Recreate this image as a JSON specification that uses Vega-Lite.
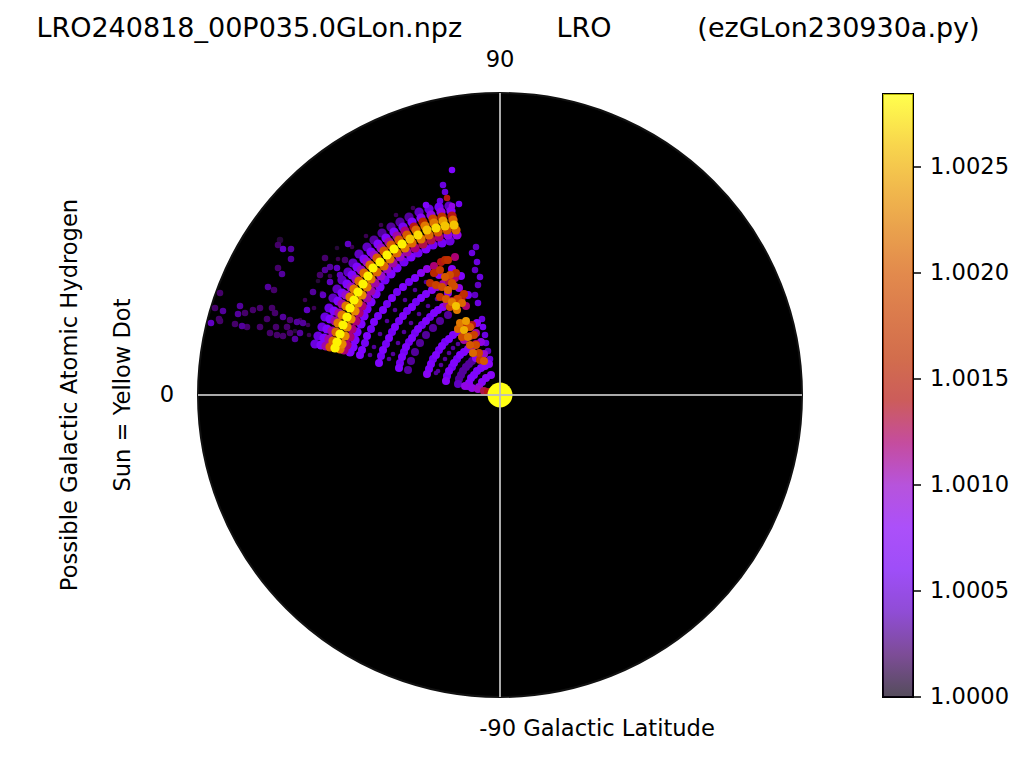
{"$schema":"https://vega.github.io/schema/vega-lite/v6.json","width":604,"height":604,"padding":{"left":198,"top":93,"right":222,"bottom":60},"autosize":"none","background":"white","config":{"view":{"stroke":null},"font":"DejaVu Sans"},"title":{"text":"LRO240818_00P035.0GLon.npz\u00a0\u00a0\u00a0\u00a0\u00a0\u00a0\u00a0\u00a0\u00a0\u00a0\u00a0LRO\u00a0\u00a0\u00a0\u00a0\u00a0\u00a0\u00a0\u00a0\u00a0\u00a0(ezGLon230930a.py)","font":"DejaVu Sans","fontSize":27,"fontWeight":"normal","color":"#000","anchor":"middle","dx":8,"offset":6},
"datasets":{"disc":[{"x":0,"y":0}],"box":[{"x":383,"x2":413,"y":-302,"y2":301}],"cross":[{"x":-302,"x2":302,"y":0,"y2":0},{"x":0,"x2":0,"y":-302,"y2":302}],"labels":[{"x":0,"y":335,"t":"90"},{"x":-333,"y":0,"t":"0"},{"x":97,"y":-334,"t":"-90 Galactic Latitude"}],"side":[{"x":-430,"y":0,"t":"Possible Galactic Atomic Hydrogen"},{"x":-377,"y":0,"t":"Sun = Yellow Dot"}],"bar":[{"x":413,"x2":421,"xt":430,"y":-302,"t":"1.0000"},{"x":413,"x2":421,"xt":430,"y":-196,"t":"1.0005"},{"x":413,"x2":421,"xt":430,"y":-90,"t":"1.0010"},{"x":413,"x2":421,"xt":430,"y":16,"t":"1.0015"},{"x":413,"x2":421,"xt":430,"y":122,"t":"1.0020"},{"x":413,"x2":421,"xt":430,"y":228,"t":"1.0025"}],
"pts":[
{"x":-51,"y":189,"v":1.0004,"g":"b"},{"x":-49,"y":184,"v":1.0008,"g":"b"},{"x":-48,"y":179,"v":1.0014,"g":"b"},{"x":-47,"y":175,"v":1.0021,"g":"b"},{"x":-46,"y":170,"v":1.0026,"g":"b"},{"x":-44,"y":165,"v":1.0021,"g":"b"},{"x":-43,"y":160,"v":1.0009,"g":"b"},
{"x":-61,"y":188,"v":1.0006,"g":"b"},{"x":-59,"y":183,"v":1.0009,"g":"b"},{"x":-58,"y":178,"v":1.0016,"g":"b"},{"x":-57,"y":174,"v":1.0024,"g":"b"},{"x":-55,"y":169,"v":1.0026,"g":"b"},{"x":-53,"y":165,"v":1.0019,"g":"b"},{"x":-52,"y":160,"v":1.0009,"g":"b"},{"x":-50,"y":154,"v":1.0005,"g":"b"},
{"x":-71,"y":186,"v":1.0005,"g":"b"},{"x":-69,"y":180,"v":1.0009,"g":"b"},{"x":-67,"y":176,"v":1.0018,"g":"b"},{"x":-66,"y":172,"v":1.0022,"g":"b"},{"x":-64,"y":167,"v":1.0027,"g":"b"},{"x":-62,"y":163,"v":1.002,"g":"b"},{"x":-61,"y":158,"v":1.0012,"g":"b"},{"x":-58,"y":152,"v":1.0006,"g":"b"},
{"x":-81,"y":183,"v":1.0004,"g":"b"},{"x":-79,"y":177,"v":1.0008,"g":"b"},{"x":-77,"y":173,"v":1.0015,"g":"b"},{"x":-75,"y":169,"v":1.0022,"g":"b"},{"x":-73,"y":165,"v":1.0026,"g":"b"},{"x":-71,"y":160,"v":1.0021,"g":"b"},{"x":-69,"y":155,"v":1.0013,"g":"b"},{"x":-67,"y":150,"v":1.0006,"g":"b"},
{"x":-91,"y":178,"v":1.0003,"g":"b"},{"x":-88,"y":173,"v":1.0007,"g":"b"},{"x":-86,"y":168,"v":1.0014,"g":"b"},{"x":-84,"y":165,"v":1.0021,"g":"b"},{"x":-82,"y":160,"v":1.0027,"g":"b"},{"x":-79,"y":156,"v":1.0022,"g":"b"},{"x":-77,"y":151,"v":1.0013,"g":"b"},{"x":-74,"y":146,"v":1.0007,"g":"b"},
{"x":-100,"y":173,"v":1.0003,"g":"b"},{"x":-97,"y":168,"v":1.0006,"g":"b"},{"x":-95,"y":164,"v":1.0012,"g":"b"},{"x":-93,"y":160,"v":1.002,"g":"b"},{"x":-90,"y":156,"v":1.0026,"g":"b"},{"x":-88,"y":152,"v":1.0021,"g":"b"},{"x":-85,"y":147,"v":1.0012,"g":"b"},{"x":-82,"y":142,"v":1.0006,"g":"b"},
{"x":-109,"y":168,"v":1.0003,"g":"b"},{"x":-106,"y":163,"v":1.0007,"g":"b"},{"x":-103,"y":159,"v":1.0011,"g":"b"},{"x":-101,"y":155,"v":1.002,"g":"b"},{"x":-98,"y":151,"v":1.0028,"g":"b"},{"x":-95,"y":147,"v":1.0022,"g":"b"},{"x":-93,"y":143,"v":1.0011,"g":"b"},{"x":-89,"y":138,"v":1.0007,"g":"b"},
{"x":-118,"y":162,"v":1.0003,"g":"b"},{"x":-114,"y":157,"v":1.0007,"g":"b"},{"x":-111,"y":153,"v":1.0011,"g":"b"},{"x":-109,"y":150,"v":1.002,"g":"b"},{"x":-106,"y":146,"v":1.0028,"g":"b"},{"x":-103,"y":142,"v":1.0021,"g":"b"},{"x":-100,"y":138,"v":1.001,"g":"b"},{"x":-96,"y":133,"v":1.0006,"g":"b"},
{"x":-126,"y":155,"v":1.0003,"g":"b"},{"x":-122,"y":151,"v":1.0007,"g":"b"},{"x":-119,"y":147,"v":1.001,"g":"b"},{"x":-116,"y":144,"v":1.002,"g":"b"},{"x":-113,"y":140,"v":1.0028,"g":"b"},{"x":-110,"y":136,"v":1.0022,"g":"b"},{"x":-107,"y":132,"v":1.0011,"g":"b"},{"x":-103,"y":127,"v":1.0007,"g":"b"},
{"x":-133,"y":148,"v":1.0004,"g":"b"},{"x":-129,"y":143,"v":1.0007,"g":"b"},{"x":-126,"y":140,"v":1.001,"g":"b"},{"x":-123,"y":137,"v":1.002,"g":"b"},{"x":-120,"y":133,"v":1.0028,"g":"b"},{"x":-116,"y":129,"v":1.0021,"g":"b"},{"x":-113,"y":126,"v":1.001,"g":"b"},{"x":-109,"y":121,"v":1.0007,"g":"b"},
{"x":-141,"y":141,"v":1.0004,"g":"b"},{"x":-136,"y":136,"v":1.0007,"g":"b"},{"x":-133,"y":133,"v":1.001,"g":"b"},{"x":-130,"y":130,"v":1.0021,"g":"b"},{"x":-127,"y":127,"v":1.0028,"g":"b"},{"x":-123,"y":123,"v":1.0021,"g":"b"},{"x":-119,"y":119,"v":1.001,"g":"b"},{"x":-115,"y":115,"v":1.0006,"g":"b"},
{"x":-147,"y":132,"v":1.0004,"g":"b"},{"x":-143,"y":128,"v":1.0007,"g":"b"},{"x":-139,"y":125,"v":1.001,"g":"b"},{"x":-136,"y":122,"v":1.0021,"g":"b"},{"x":-132,"y":119,"v":1.0028,"g":"b"},{"x":-129,"y":116,"v":1.0022,"g":"b"},{"x":-125,"y":112,"v":1.0011,"g":"b"},{"x":-120,"y":108,"v":1.0007,"g":"b"},
{"x":-152,"y":123,"v":1.0004,"g":"b"},{"x":-148,"y":120,"v":1.0007,"g":"b"},{"x":-144,"y":116,"v":1.001,"g":"b"},{"x":-141,"y":114,"v":1.0021,"g":"b"},{"x":-137,"y":111,"v":1.0028,"g":"b"},{"x":-133,"y":108,"v":1.0022,"g":"b"},{"x":-129,"y":104,"v":1.0011,"g":"b"},{"x":-124,"y":101,"v":1.0007,"g":"b"},
{"x":-158,"y":115,"v":1.0004,"g":"b"},{"x":-153,"y":111,"v":1.0007,"g":"b"},{"x":-149,"y":108,"v":1.001,"g":"b"},{"x":-146,"y":106,"v":1.0022,"g":"b"},{"x":-142,"y":103,"v":1.0028,"g":"b"},{"x":-138,"y":100,"v":1.0023,"g":"b"},{"x":-133,"y":97,"v":1.0011,"g":"b"},{"x":-129,"y":93,"v":1.0007,"g":"b"},
{"x":-163,"y":106,"v":1.0004,"g":"b"},{"x":-158,"y":102,"v":1.0007,"g":"b"},{"x":-154,"y":100,"v":1.001,"g":"b"},{"x":-150,"y":98,"v":1.0022,"g":"b"},{"x":-146,"y":95,"v":1.0028,"g":"b"},{"x":-142,"y":92,"v":1.0023,"g":"b"},{"x":-138,"y":89,"v":1.0012,"g":"b"},{"x":-133,"y":86,"v":1.0007,"g":"b"},
{"x":-167,"y":97,"v":1.0004,"g":"b"},{"x":-162,"y":94,"v":1.0007,"g":"b"},{"x":-158,"y":91,"v":1.0011,"g":"b"},{"x":-154,"y":89,"v":1.0022,"g":"b"},{"x":-150,"y":87,"v":1.0028,"g":"b"},{"x":-145,"y":84,"v":1.0023,"g":"b"},{"x":-141,"y":82,"v":1.0012,"g":"b"},{"x":-136,"y":79,"v":1.0007,"g":"b"},
{"x":-171,"y":87,"v":1.0005,"g":"b"},{"x":-166,"y":84,"v":1.0007,"g":"b"},{"x":-161,"y":82,"v":1.0011,"g":"b"},{"x":-158,"y":80,"v":1.0022,"g":"b"},{"x":-153,"y":78,"v":1.0028,"g":"b"},{"x":-149,"y":76,"v":1.0023,"g":"b"},{"x":-144,"y":74,"v":1.0012,"g":"b"},{"x":-139,"y":71,"v":1.0007,"g":"b"},
{"x":-175,"y":78,"v":1.0005,"g":"b"},{"x":-170,"y":76,"v":1.0007,"g":"b"},{"x":-165,"y":74,"v":1.0011,"g":"b"},{"x":-162,"y":72,"v":1.0022,"g":"b"},{"x":-157,"y":70,"v":1.0028,"g":"b"},{"x":-153,"y":68,"v":1.0023,"g":"b"},{"x":-148,"y":66,"v":1.0012,"g":"b"},{"x":-143,"y":63,"v":1.0007,"g":"b"},
{"x":-178,"y":68,"v":1.0005,"g":"b"},{"x":-173,"y":66,"v":1.0007,"g":"b"},{"x":-168,"y":64,"v":1.0011,"g":"b"},{"x":-164,"y":63,"v":1.0021,"g":"b"},{"x":-160,"y":61,"v":1.0028,"g":"b"},{"x":-155,"y":59,"v":1.0023,"g":"b"},{"x":-150,"y":58,"v":1.0012,"g":"b"},{"x":-145,"y":55,"v":1.0007,"g":"b"},
{"x":-182,"y":59,"v":1.0005,"g":"b"},{"x":-176,"y":57,"v":1.0007,"g":"b"},{"x":-171,"y":56,"v":1.0011,"g":"b"},{"x":-167,"y":54,"v":1.0021,"g":"b"},{"x":-163,"y":53,"v":1.0028,"g":"b"},{"x":-158,"y":51,"v":1.0023,"g":"b"},{"x":-153,"y":50,"v":1.0012,"g":"b"},{"x":-147,"y":48,"v":1.0007,"g":"b"},
{"x":-185,"y":51,"v":1.0005,"g":"b"},{"x":-179,"y":50,"v":1.0007,"g":"b"},{"x":-174,"y":49,"v":1.0011,"g":"b"},{"x":-170,"y":48,"v":1.002,"g":"b"},{"x":-165,"y":47,"v":1.0028,"g":"b"},{"x":-160,"y":46,"v":1.0022,"g":"b"},{"x":-156,"y":45,"v":1.0012,"g":"b"},{"x":-150,"y":43,"v":1.0007,"g":"b"},
{"x":-45,"y":138,"v":1.0012,"g":"l"},{"x":-52,"y":135,"v":1.0016,"g":"l"},{"x":-59,"y":133,"v":1.0014,"g":"l"},{"x":-66,"y":129,"v":1.0012,"g":"l"},{"x":-73,"y":126,"v":1.0009,"g":"l"},{"x":-79,"y":122,"v":1.0008,"g":"l"},{"x":-85,"y":117,"v":1.0007,"g":"l"},{"x":-91,"y":113,"v":1.0006,"g":"l"},{"x":-97,"y":108,"v":1.0007,"g":"l"},{"x":-103,"y":103,"v":1.0006,"g":"l"},{"x":-108,"y":97,"v":1.0007,"g":"l"},{"x":-113,"y":91,"v":1.0006,"g":"l"},{"x":-117,"y":85,"v":1.0007,"g":"l"},{"x":-122,"y":79,"v":1.0006,"g":"l"},{"x":-126,"y":73,"v":1.0007,"g":"l"},{"x":-129,"y":66,"v":1.0006,"g":"l"},{"x":-133,"y":59,"v":1.0007,"g":"l"},{"x":-135,"y":52,"v":1.0006,"g":"l"},{"x":-138,"y":45,"v":1.0007,"g":"l"},{"x":-140,"y":40,"v":1.0007,"g":"l"},
{"x":-48,"y":126,"v":1.0008,"g":"l"},{"x":-61,"y":120,"v":1.0008,"g":"l"},{"x":-74,"y":113,"v":1.0003,"g":"d"},{"x":-85,"y":105,"v":1.0003,"g":"d"},{"x":-95,"y":95,"v":1.0003,"g":"d"},{"x":-105,"y":85,"v":1.0003,"g":"d"},{"x":-113,"y":74,"v":1.0003,"g":"d"},{"x":-120,"y":61,"v":1.0003,"g":"d"},{"x":-126,"y":48,"v":1.0003,"g":"d"},{"x":-130,"y":40,"v":1.0003,"g":"d"},
{"x":-39,"y":119,"v":1.0007,"g":"l"},{"x":-45,"y":117,"v":1.0012,"g":"l"},{"x":-51,"y":114,"v":1.0013,"g":"l"},{"x":-57,"y":111,"v":1.0011,"g":"l"},{"x":-63,"y":108,"v":1.001,"g":"l"},{"x":-68,"y":105,"v":1.0008,"g":"l"},{"x":-74,"y":101,"v":1.0007,"g":"l"},{"x":-79,"y":97,"v":1.0007,"g":"l"},{"x":-84,"y":93,"v":1.0006,"g":"l"},{"x":-88,"y":88,"v":1.0007,"g":"l"},{"x":-93,"y":84,"v":1.0006,"g":"l"},{"x":-97,"y":79,"v":1.0007,"g":"l"},{"x":-101,"y":74,"v":1.0006,"g":"l"},{"x":-105,"y":68,"v":1.0007,"g":"l"},{"x":-108,"y":63,"v":1.0006,"g":"l"},{"x":-111,"y":57,"v":1.0007,"g":"l"},{"x":-114,"y":51,"v":1.0006,"g":"l"},{"x":-117,"y":45,"v":1.0007,"g":"l"},{"x":-119,"y":39,"v":1.0006,"g":"l"},{"x":-121,"y":32,"v":1.0007,"g":"l"},
{"x":-41,"y":107,"v":1.0009,"g":"l"},{"x":-52,"y":102,"v":1.0009,"g":"l"},{"x":-63,"y":96,"v":1.0003,"g":"d"},{"x":-72,"y":89,"v":1.0003,"g":"d"},{"x":-81,"y":81,"v":1.0003,"g":"d"},{"x":-89,"y":72,"v":1.0003,"g":"d"},{"x":-96,"y":63,"v":1.0003,"g":"d"},{"x":-102,"y":52,"v":1.0003,"g":"d"},{"x":-107,"y":41,"v":1.0003,"g":"d"},{"x":-111,"y":36,"v":1.0003,"g":"d"},
{"x":-32,"y":100,"v":1.0006,"g":"l"},{"x":-38,"y":98,"v":1.0014,"g":"l"},{"x":-43,"y":96,"v":1.0016,"g":"l"},{"x":-48,"y":94,"v":1.0013,"g":"l"},{"x":-53,"y":91,"v":1.0011,"g":"l"},{"x":-57,"y":88,"v":1.0008,"g":"l"},{"x":-62,"y":85,"v":1.0007,"g":"l"},{"x":-66,"y":82,"v":1.0007,"g":"l"},{"x":-70,"y":78,"v":1.0006,"g":"l"},{"x":-74,"y":74,"v":1.0007,"g":"l"},{"x":-78,"y":70,"v":1.0006,"g":"l"},{"x":-82,"y":66,"v":1.0007,"g":"l"},{"x":-85,"y":62,"v":1.0006,"g":"l"},{"x":-88,"y":57,"v":1.0007,"g":"l"},{"x":-91,"y":53,"v":1.0006,"g":"l"},{"x":-94,"y":48,"v":1.0007,"g":"l"},{"x":-96,"y":43,"v":1.0006,"g":"l"},{"x":-98,"y":38,"v":1.0007,"g":"l"},{"x":-100,"y":32,"v":1.0006,"g":"l"},{"x":-101,"y":27,"v":1.0007,"g":"l"},
{"x":-34,"y":89,"v":1.0012,"g":"l"},{"x":-43,"y":85,"v":1.0022,"g":"l"},{"x":-52,"y":80,"v":1.0003,"g":"l"},{"x":-60,"y":74,"v":1.0003,"g":"l"},{"x":-67,"y":67,"v":1.0003,"g":"l"},{"x":-74,"y":60,"v":1.0003,"g":"l"},{"x":-80,"y":52,"v":1.0003,"g":"l"},{"x":-85,"y":43,"v":1.0003,"g":"l"},{"x":-89,"y":34,"v":1.0003,"g":"l"},{"x":-92,"y":25,"v":1.0003,"g":"l"},
{"x":-23,"y":72,"v":1.0008,"g":"l"},{"x":-28,"y":70,"v":1.0014,"g":"l"},{"x":-33,"y":68,"v":1.0017,"g":"l"},{"x":-38,"y":66,"v":1.0012,"g":"l"},{"x":-42,"y":63,"v":1.0008,"g":"l"},{"x":-47,"y":60,"v":1.0007,"g":"l"},{"x":-51,"y":56,"v":1.0007,"g":"l"},{"x":-55,"y":53,"v":1.0006,"g":"l"},{"x":-58,"y":49,"v":1.0007,"g":"l"},{"x":-61,"y":45,"v":1.0006,"g":"l"},{"x":-64,"y":40,"v":1.0007,"g":"l"},{"x":-67,"y":36,"v":1.0006,"g":"l"},{"x":-69,"y":31,"v":1.0007,"g":"l"},{"x":-71,"y":26,"v":1.0007,"g":"l"},{"x":-73,"y":21,"v":1.0008,"g":"l"},
{"x":-24,"y":62,"v":1.0011,"g":"l"},{"x":-30,"y":59,"v":1.0013,"g":"l"},{"x":-36,"y":55,"v":1.0011,"g":"l"},{"x":-42,"y":51,"v":1.0003,"g":"d"},{"x":-47,"y":47,"v":1.0003,"g":"d"},{"x":-51,"y":42,"v":1.0003,"g":"d"},{"x":-55,"y":36,"v":1.0003,"g":"d"},{"x":-59,"y":30,"v":1.0003,"g":"d"},{"x":-62,"y":24,"v":1.0003,"g":"d"},{"x":-64,"y":22,"v":1.0003,"g":"d"},
{"x":-19,"y":53,"v":1.0009,"g":"l"},{"x":-24,"y":51,"v":1.0012,"g":"l"},{"x":-28,"y":48,"v":1.001,"g":"l"},{"x":-32,"y":46,"v":1.0008,"g":"l"},{"x":-36,"y":43,"v":1.0007,"g":"l"},{"x":-40,"y":40,"v":1.0007,"g":"l"},{"x":-43,"y":36,"v":1.0006,"g":"l"},{"x":-46,"y":32,"v":1.0007,"g":"l"},{"x":-48,"y":28,"v":1.0006,"g":"l"},{"x":-51,"y":24,"v":1.0007,"g":"l"},{"x":-53,"y":19,"v":1.0006,"g":"l"},{"x":-54,"y":14,"v":1.0008,"g":"l"},
{"x":-16,"y":41,"v":1.001,"g":"l"},{"x":-20,"y":39,"v":1.0009,"g":"l"},{"x":-24,"y":37,"v":1.0008,"g":"l"},{"x":-28,"y":34,"v":1.0003,"g":"l"},{"x":-31,"y":31,"v":1.0003,"g":"l"},{"x":-34,"y":28,"v":1.0003,"g":"l"},{"x":-37,"y":24,"v":1.0003,"g":"l"},{"x":-39,"y":20,"v":1.0003,"g":"l"},{"x":-41,"y":16,"v":1.0003,"g":"l"},{"x":-42,"y":11,"v":1.0004,"g":"l"},
{"x":-11,"y":31,"v":1.0008,"g":"l"},{"x":-15,"y":29,"v":1.0008,"g":"l"},{"x":-19,"y":27,"v":1.0007,"g":"l"},{"x":-23,"y":24,"v":1.0007,"g":"l"},{"x":-26,"y":20,"v":1.0007,"g":"l"},{"x":-29,"y":17,"v":1.0007,"g":"l"},{"x":-31,"y":12,"v":1.0008,"g":"l"},{"x":-32,"y":9,"v":1.0008,"g":"l"},
{"x":-9,"y":20,"v":1.0008,"g":"l"},{"x":-14,"y":17,"v":1.0008,"g":"l"},{"x":-18,"y":13,"v":1.0008,"g":"l"},{"x":-21,"y":8,"v":1.0009,"g":"l"},{"x":-12,"y":3,"v":1.0014,"g":"l"},{"x":-16,"y":4,"v":1.0013,"g":"l"},{"x":-22,"y":6,"v":1.001,"g":"l"},{"x":-28,"y":7,"v":1.0009,"g":"l"},{"x":-35,"y":9,"v":1.0009,"g":"l"},
{"x":-70,"y":112,"v":1.0016,"g":"l"},{"x":-64,"y":110,"v":1.0018,"g":"l"},{"x":-58,"y":108,"v":1.0019,"g":"l"},{"x":-52,"y":105,"v":1.0021,"g":"l"},{"x":-46,"y":109,"v":1.0019,"g":"l"},{"x":-60,"y":98,"v":1.0017,"g":"l"},{"x":-54,"y":96,"v":1.002,"g":"l"},{"x":-48,"y":93,"v":1.0022,"g":"l"},{"x":-42,"y":96,"v":1.0018,"g":"l"},{"x":-50,"y":88,"v":1.0019,"g":"l"},{"x":-44,"y":89,"v":1.0026,"g":"l"},{"x":-38,"y":92,"v":1.0021,"g":"l"},{"x":-36,"y":101,"v":1.0016,"g":"l"},{"x":-40,"y":72,"v":1.0022,"g":"l"},{"x":-34,"y":74,"v":1.0024,"g":"l"},{"x":-42,"y":66,"v":1.0021,"g":"l"},{"x":-36,"y":65,"v":1.0025,"g":"l"},{"x":-30,"y":68,"v":1.002,"g":"l"},{"x":-38,"y":58,"v":1.0019,"g":"l"},{"x":-32,"y":58,"v":1.0022,"g":"l"},{"x":-26,"y":60,"v":1.0018,"g":"l"},{"x":-30,"y":50,"v":1.002,"g":"l"},{"x":-24,"y":50,"v":1.0019,"g":"l"},{"x":-27,"y":42,"v":1.0021,"g":"l"},{"x":-21,"y":42,"v":1.0018,"g":"l"},{"x":-20,"y":35,"v":1.0017,"g":"l"},{"x":-16,"y":34,"v":1.002,"g":"l"},{"x":-60,"y":125,"v":1.0017,"g":"l"},{"x":-55,"y":118,"v":1.002,"g":"l"},{"x":-50,"y":120,"v":1.0019,"g":"l"},{"x":-44,"y":122,"v":1.0016,"g":"l"},{"x":-48,"y":112,"v":1.0019,"g":"l"},{"x":-55,"y":135,"v":1.0015,"g":"l"},{"x":-66,"y":122,"v":1.0015,"g":"l"},
{"x":-25,"y":100,"v":1.0004,"g":"h"},{"x":-22,"y":92,"v":1.0005,"g":"h"},{"x":-18,"y":76,"v":1.0005,"g":"h"},{"x":-17,"y":68,"v":1.0006,"g":"h"},{"x":-15,"y":60,"v":1.0005,"g":"h"},{"x":-14,"y":52,"v":1.0005,"g":"h"},{"x":-12,"y":44,"v":1.0004,"g":"h"},{"x":-10,"y":36,"v":1.0005,"g":"h"},{"x":-22,"y":110,"v":1.0004,"g":"h"},{"x":-20,"y":118,"v":1.0005,"g":"h"},{"x":-25,"y":125,"v":1.0004,"g":"h"},{"x":-23,"y":133,"v":1.0005,"g":"h"},{"x":-28,"y":142,"v":1.0005,"g":"h"},{"x":-24,"y":148,"v":1.0004,"g":"h"},
{"x":-48,"y":225,"v":1.0007,"g":"h"},{"x":-57,"y":210,"v":1.0005,"g":"h"},{"x":-55,"y":203,"v":1.0005,"g":"h"},{"x":-53,"y":197,"v":1.0014,"g":"h"},{"x":-74,"y":190,"v":1.0007,"g":"h"},{"x":-41,"y":191,"v":1.0006,"g":"h"},{"x":-48,"y":189,"v":1.0009,"g":"h"},{"x":-60,"y":194,"v":1.0005,"g":"h"},
{"x":-289,"y":72,"v":1.0004,"g":"h"},{"x":-280,"y":74,"v":1.0002,"g":"h"},{"x":-281,"y":76,"v":1.0002,"g":"h"},{"x":-277,"y":84,"v":1.0003,"g":"h"},{"x":-285,"y":87,"v":1.0002,"g":"h"},{"x":-280,"y":102,"v":1.0002,"g":"h"},{"x":-260,"y":89,"v":1.0003,"g":"h"},{"x":-262,"y":81,"v":1.0003,"g":"h"},{"x":-255,"y":82,"v":1.0002,"g":"h"},{"x":-247,"y":85,"v":1.0002,"g":"h"},{"x":-240,"y":87,"v":1.0002,"g":"h"},{"x":-232,"y":108,"v":1.0003,"g":"h"},{"x":-226,"y":105,"v":1.0002,"g":"h"},{"x":-265,"y":71,"v":1.0002,"g":"h"},{"x":-258,"y":69,"v":1.0003,"g":"h"},{"x":-253,"y":68,"v":1.0002,"g":"h"},{"x":-240,"y":68,"v":1.0002,"g":"h"},{"x":-233,"y":76,"v":1.0002,"g":"h"},{"x":-225,"y":82,"v":1.0002,"g":"h"},{"x":-228,"y":87,"v":1.0002,"g":"h"},{"x":-217,"y":78,"v":1.0003,"g":"h"},{"x":-224,"y":68,"v":1.0002,"g":"h"},{"x":-230,"y":62,"v":1.0002,"g":"h"},{"x":-223,"y":60,"v":1.0002,"g":"h"},{"x":-217,"y":59,"v":1.0002,"g":"h"},{"x":-210,"y":75,"v":1.0002,"g":"h"},{"x":-203,"y":73,"v":1.0003,"g":"h"},{"x":-197,"y":72,"v":1.0003,"g":"h"},{"x":-213,"y":68,"v":1.0002,"g":"h"},{"x":-210,"y":62,"v":1.0002,"g":"h"},{"x":-205,"y":56,"v":1.0003,"g":"h"},{"x":-200,"y":62,"v":1.0003,"g":"h"},{"x":-193,"y":85,"v":1.0004,"g":"h"},{"x":-187,"y":103,"v":1.0003,"g":"h"},{"x":-177,"y":100,"v":1.0004,"g":"h"},{"x":-170,"y":113,"v":1.0004,"g":"h"},
{"x":-217,"y":146,"v":1.0004,"g":"h"},{"x":-209,"y":146,"v":1.0003,"g":"h"},{"x":-209,"y":136,"v":1.0003,"g":"h"},{"x":-222,"y":150,"v":1.0002,"g":"h"},{"x":-220,"y":155,"v":1.0001,"g":"h"},{"x":-222,"y":127,"v":1.0002,"g":"h"},{"x":-218,"y":121,"v":1.0003,"g":"h"},{"x":-175,"y":137,"v":1.0002,"g":"h"},{"x":-152,"y":151,"v":1.0004,"g":"h"},{"x":-155,"y":135,"v":1.0002,"g":"h"},{"x":-175,"y":125,"v":1.0003,"g":"h"},{"x":-170,"y":128,"v":1.0003,"g":"h"},{"x":-163,"y":127,"v":1.0004,"g":"h"},{"x":-180,"y":120,"v":1.0002,"g":"h"},{"x":-160,"y":120,"v":1.0004,"g":"h"},
{"x":-148,"y":148,"v":1.00015,"g":"d"},{"x":-162,"y":136,"v":1.00015,"g":"d"},{"x":-170,"y":119,"v":1.00015,"g":"d"},{"x":-178,"y":102,"v":1.00015,"g":"d"},{"x":-134,"y":159,"v":1.00015,"g":"d"},{"x":-119,"y":170,"v":1.00015,"g":"d"},{"x":-104,"y":180,"v":1.00015,"g":"d"},{"x":-87,"y":187,"v":1.00015,"g":"d"},{"x":-186,"y":87,"v":1.00015,"g":"d"},{"x":-192,"y":70,"v":1.00015,"g":"d"},{"x":-191,"y":60,"v":1.00015,"g":"d"},{"x":-182,"y":114,"v":1.0001,"g":"d"},{"x":-163,"y":147,"v":1.0001,"g":"d"},{"x":-205,"y":64,"v":1.0001,"g":"d"},{"x":-200,"y":75,"v":1.00015,"g":"d"},{"x":-195,"y":95,"v":1.00015,"g":"d"}
]},
"encoding":{"x":{"field":"x","type":"quantitative","axis":null,"scale":{"domain":[-302,302],"nice":false,"zero":false}},"y":{"field":"y","type":"quantitative","axis":null,"scale":{"domain":[-302,302],"nice":false,"zero":false}}},
"layer":[
{"data":{"name":"disc"},"mark":{"type":"point","filled":true,"size":364816,"fill":"#000","stroke":"#111","strokeWidth":2,"opacity":1}},
{"data":{"name":"pts"},"mark":{"type":"point","filled":true,"opacity":1},"encoding":{"order":{"field":"v","type":"quantitative"},"size":{"field":"g","type":"nominal","scale":{"domain":["b","l","h","d"],"range":[85,22,12,150]},"legend":null},"color":{"field":"v","type":"quantitative","scale":{"domain":[1,1.00004,1.000142,1.000284,1.000427,1.000569,1.000711,1.000853,1.000995,1.001138,1.00128,1.001422,1.001706,1.001991,1.002275,1.00256,1.002844],"range":["#000000","#100018","#39004f","#510096","#6301ce","#7202f2","#8004ff","#8c07f2","#970bce","#a11096","#ab174f","#b42000","#c63700","#d55700","#e48300","#f2ba00","#ffff00"]},"legend":{"orient":"none","legendX":685,"legendY":1,"title":null,"gradientLength":603,"gradientThickness":30,"gradientOpacity":0.7,"values":[1,1.0005,1.001,1.0015,1.002,1.0025],"labelExpr":"''"}}}},
{"data":{"name":"disc"},"mark":{"type":"point","filled":true,"size":625,"fill":"#ffff14","opacity":1}},
{"data":{"name":"cross"},"mark":{"type":"rule","color":"#bdbdbd","strokeWidth":2,"opacity":0.9},"encoding":{"x2":{"field":"x2"},"y2":{"field":"y2"}}},
{"data":{"name":"labels"},"mark":{"type":"text","font":"DejaVu Sans","fontSize":22.6,"color":"#000","align":"center","baseline":"middle"},"encoding":{"text":{"field":"t"}}},
{"data":{"name":"side"},"mark":{"type":"text","font":"DejaVu Sans","fontSize":22.6,"color":"#000","align":"center","baseline":"middle","angle":270},"encoding":{"text":{"field":"t"}}},
{"data":{"name":"box"},"mark":{"type":"rect","fill":null,"stroke":"#000","strokeWidth":2},"encoding":{"x2":{"field":"x2"},"y2":{"field":"y2"}}},
{"data":{"name":"bar"},"mark":{"type":"rule","color":"#000","strokeWidth":1.5},"encoding":{"x2":{"field":"x2"}}},
{"data":{"name":"bar"},"mark":{"type":"text","font":"DejaVu Sans","fontSize":22.6,"color":"#000","align":"left","baseline":"middle"},"encoding":{"x":{"field":"xt","type":"quantitative"},"text":{"field":"t"}}}
]}
